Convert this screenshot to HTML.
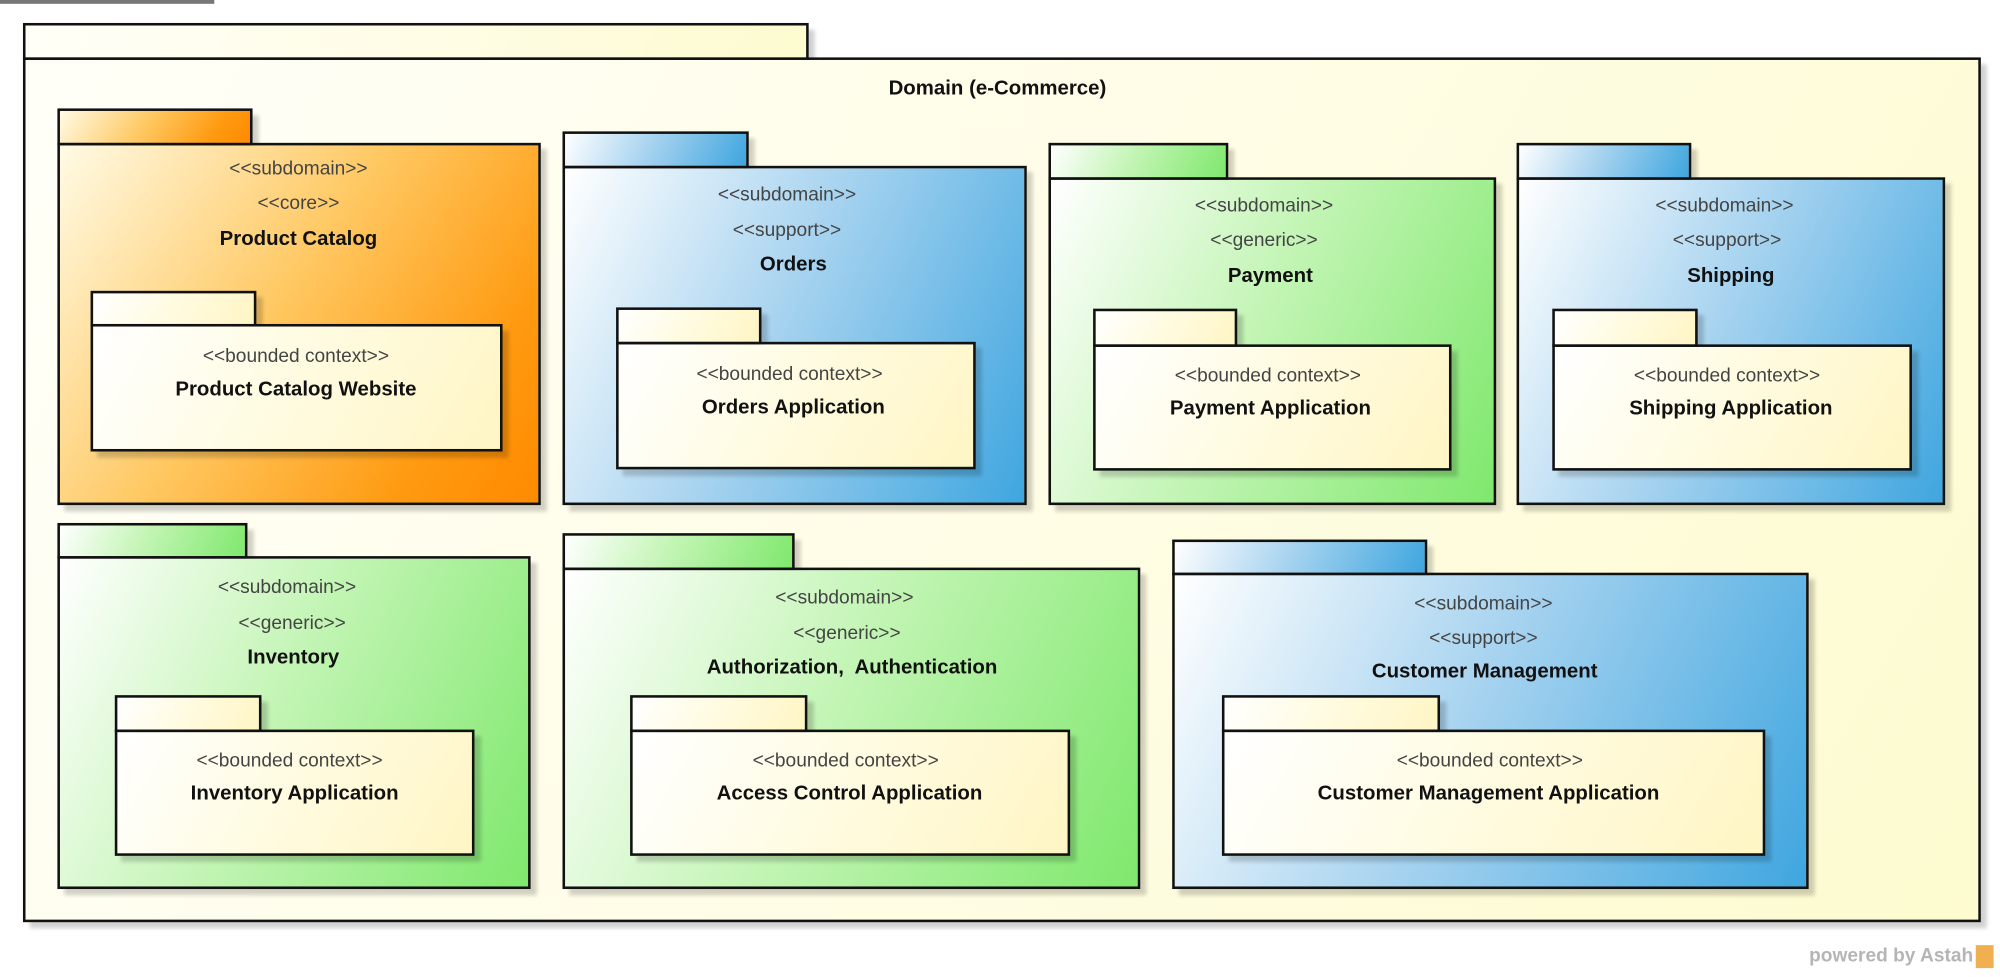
<!DOCTYPE html>
<html><head><meta charset="utf-8"><style>
html,body{margin:0;padding:0;background:#fff;width:2000px;height:977px;overflow:hidden}
#w{position:absolute;left:0;top:0;width:1568px;height:766px;transform:scale(1.2755);transform-origin:0 0;font-family:"Liberation Sans",Arial,sans-serif}
.b{position:absolute;box-sizing:border-box;border:2px solid #111;box-shadow:5px 5px 3px rgba(0,0,0,0.18)}
.t{position:absolute;width:400px;text-align:center;font-size:15px;color:#444;transform:translateX(-200px);line-height:18px}
.n{position:absolute;width:500px;text-align:center;font-size:16px;font-weight:bold;color:#111;transform:translateX(-250px);line-height:18px}
.or{background:linear-gradient(125deg,#fffbe6 0%,#ffc862 45%,#ff9a10 80%,#ff8a00 100%)}
.bl{background:linear-gradient(115deg,#ffffff 0%,#a9d4f0 45%,#3fa6df 100%)}
.gr{background:linear-gradient(115deg,#ffffff 0%,#c4f5b6 45%,#7fe86d 100%)}
.in{background:linear-gradient(120deg,#ffffff 0%,#fffbe0 50%,#fff5c4 100%)}
.ou{background:linear-gradient(120deg,#fffff8 0%,#fffde6 50%,#fdfbcf 100%)}
</style></head><body><div id="w">
<div style="position:absolute;left:0;top:0;width:168px;height:3px;background:#777"></div>
<div class="b ou" style="left:18px;top:18px;width:616px;height:29px"></div>
<div class="b ou" style="left:18px;top:45px;width:1535px;height:678px"></div>
<div class="n" style="left:782px;top:61px">Domain (e-Commerce)</div>

<div class="b or" style="left:45px;top:85px;width:153px;height:29px"></div>
<div class="b or" style="left:45px;top:112px;width:379px;height:284px"></div>
<div class="t" style="left:234px;top:124px">&lt;&lt;subdomain&gt;&gt;</div>
<div class="t" style="left:234px;top:151px">&lt;&lt;core&gt;&gt;</div>
<div class="n" style="left:234px;top:179px">Product Catalog</div>
<div class="b in" style="left:71px;top:228px;width:130px;height:28px"></div>
<div class="b in" style="left:71px;top:254px;width:323px;height:100px"></div>
<div class="t" style="left:232px;top:271px">&lt;&lt;bounded context&gt;&gt;</div>
<div class="n" style="left:232px;top:297px">Product Catalog Website</div>

<div class="b bl" style="left:441px;top:103px;width:146px;height:29px"></div>
<div class="b bl" style="left:441px;top:130px;width:364px;height:266px"></div>
<div class="t" style="left:617px;top:144px">&lt;&lt;subdomain&gt;&gt;</div>
<div class="t" style="left:617px;top:172px">&lt;&lt;support&gt;&gt;</div>
<div class="n" style="left:622px;top:199px">Orders</div>
<div class="b in" style="left:483px;top:241px;width:114px;height:29px"></div>
<div class="b in" style="left:483px;top:268px;width:282px;height:100px"></div>
<div class="t" style="left:619px;top:285px">&lt;&lt;bounded context&gt;&gt;</div>
<div class="n" style="left:622px;top:311px">Orders Application</div>

<div class="b gr" style="left:822px;top:112px;width:141px;height:29px"></div>
<div class="b gr" style="left:822px;top:139px;width:351px;height:257px"></div>
<div class="t" style="left:991px;top:153px">&lt;&lt;subdomain&gt;&gt;</div>
<div class="t" style="left:991px;top:180px">&lt;&lt;generic&gt;&gt;</div>
<div class="n" style="left:996px;top:208px">Payment</div>
<div class="b in" style="left:857px;top:242px;width:113px;height:30px"></div>
<div class="b in" style="left:857px;top:270px;width:281px;height:99px"></div>
<div class="t" style="left:994px;top:286px">&lt;&lt;bounded context&gt;&gt;</div>
<div class="n" style="left:996px;top:312px">Payment Application</div>

<div class="b bl" style="left:1189px;top:112px;width:137px;height:29px"></div>
<div class="b bl" style="left:1189px;top:139px;width:336px;height:257px"></div>
<div class="t" style="left:1352px;top:153px">&lt;&lt;subdomain&gt;&gt;</div>
<div class="t" style="left:1354px;top:180px">&lt;&lt;support&gt;&gt;</div>
<div class="n" style="left:1357px;top:208px">Shipping</div>
<div class="b in" style="left:1217px;top:242px;width:114px;height:30px"></div>
<div class="b in" style="left:1217px;top:270px;width:282px;height:99px"></div>
<div class="t" style="left:1354px;top:286px">&lt;&lt;bounded context&gt;&gt;</div>
<div class="n" style="left:1357px;top:312px">Shipping Application</div>

<div class="b gr" style="left:45px;top:410px;width:149px;height:28px"></div>
<div class="b gr" style="left:45px;top:436px;width:371px;height:261px"></div>
<div class="t" style="left:225px;top:452px">&lt;&lt;subdomain&gt;&gt;</div>
<div class="t" style="left:229px;top:480px">&lt;&lt;generic&gt;&gt;</div>
<div class="n" style="left:230px;top:507px">Inventory</div>
<div class="b in" style="left:90px;top:545px;width:115px;height:29px"></div>
<div class="b in" style="left:90px;top:572px;width:282px;height:99px"></div>
<div class="t" style="left:227px;top:588px">&lt;&lt;bounded context&gt;&gt;</div>
<div class="n" style="left:231px;top:614px">Inventory Application</div>

<div class="b gr" style="left:441px;top:418px;width:182px;height:29px"></div>
<div class="b gr" style="left:441px;top:445px;width:453px;height:252px"></div>
<div class="t" style="left:662px;top:460px">&lt;&lt;subdomain&gt;&gt;</div>
<div class="t" style="left:664px;top:488px">&lt;&lt;generic&gt;&gt;</div>
<div class="n" style="left:668px;top:515px">Authorization,&nbsp; Authentication</div>
<div class="b in" style="left:494px;top:545px;width:139px;height:29px"></div>
<div class="b in" style="left:494px;top:572px;width:345px;height:99px"></div>
<div class="t" style="left:663px;top:588px">&lt;&lt;bounded context&gt;&gt;</div>
<div class="n" style="left:666px;top:614px">Access Control Application</div>

<div class="b bl" style="left:919px;top:423px;width:200px;height:28px"></div>
<div class="b bl" style="left:919px;top:449px;width:499px;height:248px"></div>
<div class="t" style="left:1163px;top:465px">&lt;&lt;subdomain&gt;&gt;</div>
<div class="t" style="left:1163px;top:492px">&lt;&lt;support&gt;&gt;</div>
<div class="n" style="left:1164px;top:518px">Customer Management</div>
<div class="b in" style="left:958px;top:545px;width:171px;height:29px"></div>
<div class="b in" style="left:958px;top:572px;width:426px;height:99px"></div>
<div class="t" style="left:1168px;top:588px">&lt;&lt;bounded context&gt;&gt;</div>
<div class="n" style="left:1167px;top:614px">Customer Management Application</div>

<div style="position:absolute;left:1300px;width:247px;text-align:right;top:741px;font-size:15px;color:#b5b5b5;font-weight:bold">powered by Astah</div>
<div style="position:absolute;left:1549px;top:741px;width:14px;height:18px;background:#f0b050"></div>
</div></body></html>
